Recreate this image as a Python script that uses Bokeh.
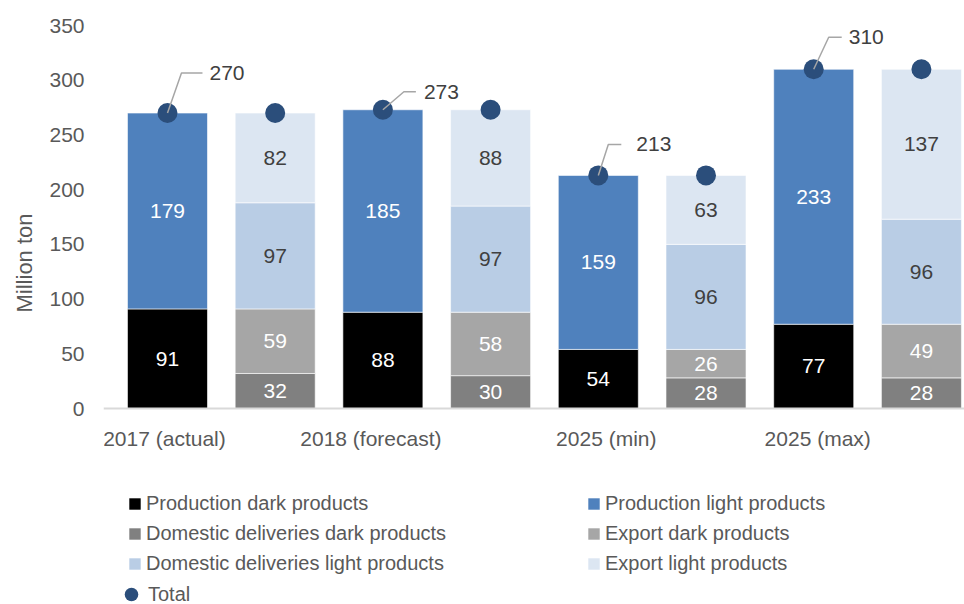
import numpy as np
from bokeh.plotting import figure
from bokeh.models import (Range1d, FixedTicker, Legend, LegendItem,
                          ColumnDataSource, Title, Span)
from bokeh.core.properties import value
from bokeh.embed import file_html
from bokeh.resources import INLINE

# ---------------- data ----------------
categories = ["2017 (actual)", "2018 (forecast)", "2025 (min)", "2025 (max)"]
production_dark = [91, 88, 54, 77]
production_light = [179, 185, 159, 233]
domestic_dark = [32, 30, 28, 28]
export_dark = [59, 58, 26, 49]
domestic_light = [97, 97, 96, 96]
export_light = [82, 88, 63, 137]
total = [270, 273, 213, 310]
y_ticks = [0, 50, 100, 150, 200, 250, 300, 350]

# ---------------- style ----------------
FONT = "Liberation Sans"
FS = "21px"
LFS = "20px"
TXT = "#595959"
LBL = "#404040"
C_PD = "#000000"
C_PL = "#4F81BD"
C_DD = "#808080"
C_ED = "#A6A6A6"
C_DL = "#B9CDE5"
C_EL = "#DCE6F2"
C_TOT = "#2B4E7B"

W, H = 964, 604
LEFT, TOP = 103, 25
AXIS_Y = 408                       # pixel row of the value 0
PX_Y = (AXIS_Y - TOP) / 350.0      # pixels per million ton
X_START, X_END = -0.594, 7.40
Y_START, Y_END = -(H - AXIS_Y) / PX_Y, 350
BAR_W = 0.743

p = figure(width=W, height=H, output_backend="svg", toolbar_location=None,
           x_range=Range1d(X_START, X_END), y_range=Range1d(Y_START, Y_END),
           min_border_left=LEFT, min_border_right=0, min_border_top=TOP,
           min_border_bottom=0)
p.outline_line_color = None
p.xgrid.visible = False
p.ygrid.visible = False
p.xaxis.visible = False

frame_w = W - LEFT
px_x = frame_w / (X_END - X_START)
px_y = PX_Y

n = len(categories)
x_prod = [2 * i for i in range(n)]
x_cons = [2 * i + 1 for i in range(n)]

src_p = ColumnDataSource(dict(x=x_prod, pd=production_dark, pl=production_light))
rp = p.vbar_stack(["pd", "pl"], x="x", width=BAR_W, source=src_p,
                  fill_color=[C_PD, C_PL], line_color="white", line_width=0.6)
src_c = ColumnDataSource(dict(x=x_cons, dd=domestic_dark, ed=export_dark,
                              dl=domestic_light, el=export_light))
rc = p.vbar_stack(["dd", "ed", "dl", "el"], x="x", width=BAR_W, source=src_c,
                  fill_color=[C_DD, C_ED, C_DL, C_EL], line_color="white",
                  line_width=0.6)

# category axis: base line and labels (label shifts in screen pixels)
cat_dx = [-3, -12, 8, 4]
p.add_layout(Span(location=0, dimension="width", line_color="#D9D9D9",
                  line_width=2))
src_cat = ColumnDataSource(dict(x=x_prod, y=[0] * n, t=categories, dx=cat_dx))
p.text(x="x", y="y", text="t", x_offset="dx", y_offset=30, source=src_cat,
       text_align="center", text_baseline="middle", text_font=value(FONT),
       text_font_size=FS, text_color=TXT)


def seg_labels(xs, layers, colors):
    base = np.zeros(len(xs))
    for layer, col in zip(layers, colors):
        arr = np.array(layer, dtype=float)
        mid = base + arr / 2
        p.text(x=xs, y=list(mid), text=[str(v) for v in layer],
               text_align="center", text_baseline="middle",
               text_font=value(FONT), text_font_size=FS, text_color=col)
        base += arr


seg_labels(x_prod, [production_dark, production_light], ["white", "white"])
seg_labels(x_cons, [domestic_dark, export_dark, domestic_light, export_light],
           ["white", "white", LBL, LBL])

# total markers
tot_r = p.scatter(x=x_prod + x_cons, y=total + total, size=20,
                  fill_color=C_TOT, line_color=None)

# leader lines and total labels (offsets in screen pixels)
lead_dx = [14, 21, 10, 15]
lead_dy = [40, 18, 31, 32]
lead_len = [21, 12, 13, 13]
lead_gap = [7, 8, 15, 7]
xs_l, ys_l, lx, ly = [], [], [], []
for i in range(n):
    x0, y0 = x_prod[i], total[i]
    xe = x0 + lead_dx[i] / px_x
    ye = y0 + lead_dy[i] / px_y
    xf = xe + lead_len[i] / px_x
    xs_l.append([x0, xe, xf])
    ys_l.append([y0, ye, ye])
    lx.append(xf)
    ly.append(ye)
p.multi_line(xs_l, ys_l, line_color="#A6A6A6", line_width=1.5)
src_t = ColumnDataSource(dict(x=lx, y=ly, t=[str(v) for v in total], off=lead_gap))
p.text(x="x", y="y", text="t", x_offset="off", source=src_t, text_align="left",
       text_baseline="middle", text_font=value(FONT), text_font_size=FS,
       text_color=LBL)

# value axis
p.yaxis.ticker = FixedTicker(ticks=y_ticks)
p.yaxis.axis_line_color = None
p.yaxis.major_tick_line_color = None
p.yaxis.minor_tick_line_color = None
p.yaxis.major_label_standoff = 13
p.yaxis.major_label_text_font = FONT
p.yaxis.major_label_text_font_size = FS
p.yaxis.major_label_text_color = TXT

p.add_layout(Title(text="Million ton", align="left", offset=292,
                   text_font=FONT, text_font_size="22px",
                   text_font_style="normal", text_color=TXT, standoff=19),
             "left")

# legends (three blocks: two columns of swatches and the marker entry)
common = dict(orientation="vertical", padding=0, margin=0,
              label_text_font=FONT, label_text_font_size=LFS,
              label_text_color=TXT, border_line_color=None,
              background_fill_alpha=0)
leg_a = Legend(items=[
    LegendItem(label="Production dark products", renderers=[rp[0]]),
    LegendItem(label="Domestic deliveries dark products", renderers=[rc[0]]),
    LegendItem(label="Domestic deliveries light products", renderers=[rc[2]]),
], location=(24, 26), glyph_width=15, glyph_height=15, label_standoff=4,
    label_height=29, spacing=1, **common)
leg_b = Legend(items=[
    LegendItem(label="Production light products", renderers=[rp[1]]),
    LegendItem(label="Export dark products", renderers=[rc[1]]),
    LegendItem(label="Export light products", renderers=[rc[3]]),
], location=(483, 26), glyph_width=15, glyph_height=15, label_standoff=4,
    label_height=29, spacing=1, **common)
leg_c = Legend(items=[LegendItem(label="Total", renderers=[tot_r])],
               location=(11, -7), glyph_width=34, glyph_height=34,
               label_standoff=0, **common)
for lg in (leg_a, leg_b, leg_c):
    p.add_layout(lg, "center")

open("out.html", "w").write(file_html(p, INLINE))
